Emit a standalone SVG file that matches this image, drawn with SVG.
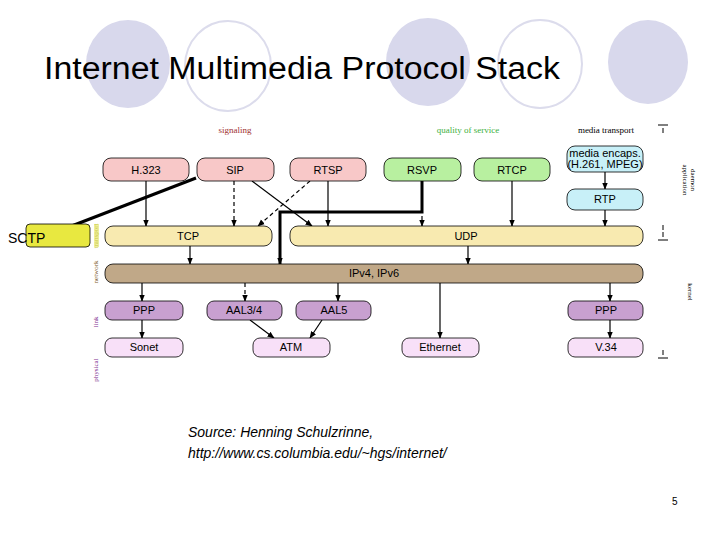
<svg xmlns="http://www.w3.org/2000/svg" width="720" height="540" viewBox="0 0 720 540">
<style>
.b{stroke:#000;stroke-width:0.8}
.t{font-family:"Liberation Sans",Arial,sans-serif;font-size:11px;text-anchor:middle}
.s{font-family:"Liberation Serif",serif;font-size:9px;text-anchor:middle}
.v{font-family:"Liberation Serif",serif;font-size:7px;text-anchor:middle}
.c{stroke:#000;stroke-width:1.2;fill:none;marker-end:url(#a)}
.k{stroke:#000;stroke-width:3;fill:none;marker-end:url(#a2)}
.d{stroke-dasharray:4,3}
</style>
<defs>
<marker id="a" viewBox="0 0 10 10" refX="9" refY="5" markerWidth="6" markerHeight="6" orient="auto"><path d="M0,1L10,5L0,9z"/></marker>
<marker id="a2" viewBox="0 0 10 10" refX="9" refY="5" markerWidth="3" markerHeight="3" orient="auto"><path d="M0,1L10,5L0,9z"/></marker>
</defs>
<rect width="720" height="540" fill="#fff"/>
<g id="deco">
<ellipse cx="128" cy="64" rx="42" ry="44" fill="#d8d8ec"/>
<ellipse cx="228" cy="66" rx="43" ry="45" fill="none" stroke="#dcdcec" stroke-width="2"/>
<ellipse cx="428" cy="62" rx="42" ry="44" fill="#d8d8ec"/>
<ellipse cx="540" cy="64" rx="42" ry="44" fill="none" stroke="#dcdcec" stroke-width="2"/>
<ellipse cx="648" cy="62" rx="40" ry="42" fill="#d8d8ec"/>
</g>
<text x="44" y="79" font-family="Liberation Sans,Arial,sans-serif" font-size="31" textLength="516" lengthAdjust="spacingAndGlyphs">Internet Multimedia Protocol Stack</text>
<text class="s" x="235" y="133" fill="#a03030">signaling</text>
<text class="s" x="468" y="133" fill="#40b040">quality of service</text>
<text class="s" x="606" y="133">media transport</text>
<g id="ticks" stroke="#000" stroke-width="1">
<path d="M658,125h10M663,128v5M658,240h10M663,237v-5M663,230v-5M658,358h10M663,355v-5"/>
</g>
<text class="v" transform="translate(683,180) rotate(90)">application</text>
<text class="v" transform="translate(691,180) rotate(90)">daemon</text>
<text class="v" transform="translate(688,292) rotate(90)">kernel</text>
<rect x="94" y="224" width="5" height="23" fill="#f0f0a0"/>
<text class="v" transform="translate(98,236) rotate(-90)" fill="#c8c840">transport</text>
<text class="v" transform="translate(98,272) rotate(-90)" fill="#806030">network</text>
<text class="v" transform="translate(98,322) rotate(-90)" fill="#803090">link</text>
<text class="v" transform="translate(98,370) rotate(-90)" fill="#803090">physical</text>
<g id="connectors">
<path class="c" d="M146,181V226"/>
<path class="c d" d="M234,181V226"/>
<path class="c" d="M252,181L312,226"/>
<path class="c d" d="M310,181L258,226"/>
<path class="c" d="M328,181V226"/>
<path class="c d" d="M422,181V226" stroke-width="1.8"/>
<path class="c" d="M512,181V226"/>
<path class="c" d="M605,172V189"/>
<path class="c" d="M605,210V226"/>
<path d="M422,181V212H280V264" stroke="#000" stroke-width="3" fill="none"/>
<path class="c" d="M280,258V264"/>
<path class="k" d="M196,178L56,232"/>
<path class="c" d="M190,246V264"/>
<path class="c" d="M468,246V264"/>
<path class="c" d="M142,283V301"/>
<path class="c d" d="M245,283V301"/>
<path class="c" d="M338,283V301"/>
<path class="c" d="M440,283V338"/>
<path class="c" d="M610,283V301"/>
<path class="c" d="M142,320V338"/>
<path class="c" d="M250,320L274,338"/>
<path class="c" d="M322,320L310,338"/>
<path class="c" d="M610,320V338"/>
</g>
<g id="h323"><rect class="b" x="103" y="158" width="86" height="23" rx="8" fill="#f8c8c8"/><text class="t" x="146" y="174">H.323</text></g>
<g id="sip"><rect class="b" x="197" y="158" width="77" height="23" rx="8" fill="#f8c8c8"/><text class="t" x="235" y="174">SIP</text></g>
<g id="rtsp"><rect class="b" x="290" y="158" width="76" height="23" rx="8" fill="#f8c8c8"/><text class="t" x="328" y="174">RTSP</text></g>
<g id="rsvp"><rect class="b" x="384" y="158" width="77" height="23" rx="8" fill="#b8f0a0"/><text class="t" x="422" y="174">RSVP</text></g>
<g id="rtcp"><rect class="b" x="474" y="158" width="76" height="23" rx="8" fill="#b8f0a0"/><text class="t" x="512" y="174">RTCP</text></g>
<g id="encaps"><rect class="b" x="567" y="146" width="76" height="26" rx="8" fill="#c8f0f8"/><text class="t" x="605" y="157" font-size="10">media encaps.</text><text class="t" x="605" y="168" font-size="10">(H.261, MPEG)</text></g>
<g id="rtp"><rect class="b" x="567" y="189" width="76" height="21" rx="8" fill="#c8f0f8"/><text class="t" x="605" y="203">RTP</text></g>
<g id="sctp"><rect class="b" x="26" y="224" width="64" height="23" rx="4" fill="#e8e840"/><text x="8" y="243" font-family="Liberation Sans,Arial,sans-serif" font-size="14">SCTP</text></g>
<g id="tcp"><rect class="b" x="105" y="226" width="167" height="20" rx="8" fill="#f8eab0"/><text class="t" x="188" y="240">TCP</text></g>
<g id="udp"><rect class="b" x="290" y="226" width="353" height="20" rx="8" fill="#f8eab0"/><text class="t" x="466" y="240">UDP</text></g>
<g id="ip"><rect class="b" x="105" y="264" width="538" height="19" rx="8" fill="#c0a888"/><text class="t" x="374" y="277">IPv4, IPv6</text></g>
<g id="ppp1"><rect class="b" x="105" y="301" width="78" height="19" rx="7" fill="#c8a0d0"/><text class="t" x="144" y="314">PPP</text></g>
<g id="aal34"><rect class="b" x="207" y="301" width="75" height="19" rx="7" fill="#c8a0d0"/><text class="t" x="244" y="314">AAL3/4</text></g>
<g id="aal5"><rect class="b" x="296" y="301" width="75" height="19" rx="7" fill="#c8a0d0"/><text class="t" x="334" y="314">AAL5</text></g>
<g id="ppp2"><rect class="b" x="568" y="301" width="75" height="19" rx="7" fill="#c8a0d0"/><text class="t" x="606" y="314">PPP</text></g>
<g id="sonet"><rect class="b" x="105" y="338" width="78" height="19" rx="7" fill="#f8e0f8"/><text class="t" x="144" y="351">Sonet</text></g>
<g id="atm"><rect class="b" x="253" y="338" width="77" height="19" rx="7" fill="#f8e0f8"/><text class="t" x="291" y="351">ATM</text></g>
<g id="ethernet"><rect class="b" x="402" y="338" width="77" height="19" rx="7" fill="#f8e0f8"/><text class="t" x="440" y="351">Ethernet</text></g>
<g id="v34"><rect class="b" x="568" y="338" width="75" height="19" rx="7" fill="#f8e0f8"/><text class="t" x="606" y="351">V.34</text></g>
<text x="188" y="437" font-family="Liberation Sans,Arial,sans-serif" font-size="14" font-style="italic">Source: Henning Schulzrinne,</text>
<text x="188" y="458" font-family="Liberation Sans,Arial,sans-serif" font-size="14" font-style="italic">http://www.cs.columbia.edu/~hgs/internet/</text>
<text x="672" y="505" font-family="Liberation Sans,Arial,sans-serif" font-size="10">5</text>
</svg>
